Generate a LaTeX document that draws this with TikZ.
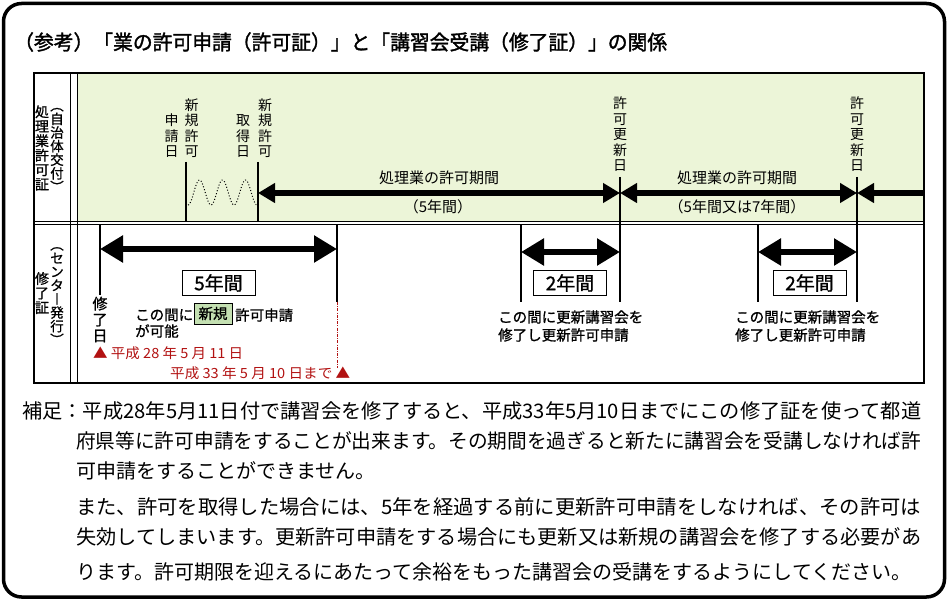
\documentclass[tikz,border=0pt]{standalone}
\usepackage{fontspec}
\setmainfont{Noto Sans CJK JP}
\newfontfamily\jpbold[FakeBold=1.6]{Noto Sans CJK JP}
\newfontfamily\jpsemi[FakeBold=1.0]{Noto Sans CJK JP}
\usetikzlibrary{arrows.meta,calc}
\definecolor{bggreen}{RGB}{236,245,216}
\definecolor{newgreen}{RGB}{196,224,178}
\definecolor{dred}{RGB}{178,18,18}
\begin{document}
\begin{tikzpicture}[x=1pt,y=-1pt,
  vt/.style={inner sep=0pt, align=center, font=\fontsize{14}{15.5}\selectfont},
  vtb/.style={inner sep=0pt, align=center, font=\jpsemi\fontsize{14}{14.5}\selectfont},
  vtl/.style={inner sep=0pt, align=center, font=\jpsemi\fontsize{13.5}{13.6}\selectfont},
  lab/.style={inner sep=0pt, font=\fontsize{15}{16}\selectfont},
  note/.style={inner sep=0pt, anchor=west, font=\jpsemi\fontsize{14.5}{16}\selectfont},
  redtxt/.style={inner sep=0pt, anchor=west, text=dred, font=\fontsize{14}{16}\selectfont},
  para/.style={inner sep=0pt, anchor=west, font=\fontsize{20}{24}\selectfont},
  yearbox/.style={draw, line width=1pt, minimum width=73pt, minimum height=24pt, inner sep=0pt, font=\jpsemi\fontsize{19}{20}\selectfont},
  vline/.style={line width=1.8pt},
  thinline/.style={line width=1pt},
  toparr/.style={line width=6pt, arrows={Triangle[length=17pt,width=19pt]-Triangle[length=17pt,width=19pt]}},
  toparrl/.style={line width=6pt, arrows={Triangle[length=17pt,width=19pt]-}},
  botarr/.style={line width=5.5pt, arrows={Triangle[length=23pt,width=26pt]-Triangle[length=23pt,width=26pt]}},
]
\useasboundingbox (0,0) rectangle (949,601);
% outer rounded frame
\draw[line width=3.5pt, rounded corners=18pt] (3.5,3.5) rectangle (944.5,597);
% title
\node[inner sep=0pt, anchor=west, font=\jpbold\fontsize{20.5}{24}\selectfont] (title) at (14,42)
  {\resizebox{653pt}{\height}{（参考）「業の許可申請（許可証）」と「講習会受講（修了証）」の関係}};

% table background
\fill[bggreen] (77,73) rectangle (924,222);
% table frame and double lines
\draw[thinline] (34,222) -- (924,222);
\draw[thinline] (34,225) -- (924,225);
\draw[thinline] (70.5,73) -- (70.5,383);
\draw[thinline] (77,73) -- (77,383);
\draw[line width=2pt] (34,73) rectangle (924,383);

% left column labels
\node[vtb] (kyokasho) at (42,148) {処\\理\\業\\許\\可\\証};
\node[vtl] (jichitai) at (57,150) {︵\\自\\治\\体\\交\\付\\︶};
\node[vtb] (shuryosho) at (42,293) {修\\了\\証};
\node[vtl] (center) at (57,296) {︵\\セ\\ン\\タ\\︱\\発\\行\\︶};

% top vertical labels
\node[vt, anchor=south] (shinki1) at (191.5,158) {新\\規\\許\\可};
\node[vt, anchor=south] (shinsei) at (171.5,158) {申\\請\\日};
\node[vt, anchor=south] (shinki2) at (265,158) {新\\規\\許\\可};
\node[vt, anchor=south] (shutoku) at (243,158) {取\\得\\日};
\node[vt, anchor=south] (koshin1) at (620,172) {許\\可\\更\\新\\日};
\node[vt, anchor=south] (koshin2) at (857,172) {許\\可\\更\\新\\日};

% vertical lines (top)
\coordinate (v1t) at (186,162); \coordinate (v1b) at (186,222);
\coordinate (v2t) at (258,162); \coordinate (v2b) at (258,222);
\coordinate (v3t) at (620,177); \coordinate (v3b) at (620,302);
\coordinate (v4t) at (857,177); \coordinate (v4b) at (857,302);
\draw[vline] (v1t) -- (v1b);
\draw[vline] (v2t) -- (v2b);
\draw[vline] (v3t) -- (v3b);
\draw[vline] (v4t) -- (v4b);
% wavy dotted line
\draw[line width=1pt, dotted] plot[domain=0:3, samples=90, smooth] ({188+23*\x}, {192.5+12.5*cos(360*\x)});

% top arrows
\coordinate (a1) at (258,193);
\coordinate (a2) at (620,193);
\coordinate (a3) at (857,193);
\coordinate (a4) at (924,193);
\draw[toparr] (a1) -- (a2);
\draw[toparr] (a2) -- (a3);
\draw[toparrl] (a3) -- (a4);
\node[lab] (kikan1) at (439,178) {処理業の許可期間};
\node[lab] (nen1) at (438,207) {（5年間）};
\node[lab] (kikan2) at (737,178) {処理業の許可期間};
\node[lab] (nen2) at (737,207) {（5年間又は7年間）};

% bottom vertical lines
\coordinate (b1t) at (100,225);
\coordinate (b2t) at (337,225); \coordinate (b2b) at (337,302);
\coordinate (b3t) at (521,225); \coordinate (b3b) at (521,302);
\coordinate (b5t) at (758,225); \coordinate (b5b) at (758,302);
\node[vtb, anchor=north, font=\jpsemi\fontsize{15}{16}\selectfont] (shuryobi) at (100,296.5) {修\\了\\日};
\draw[vline] (b1t) -- ($(shuryobi.north)+(0,-1.5)$);
\draw[vline] (b2t) -- (b2b);
\draw[vline] (b3t) -- (b3b);
\draw[vline] (b5t) -- (b5b);
\coordinate (b2r) at (337,368);
\draw[dred, line width=0.9pt, dash pattern=on 3pt off 1.2pt on 1pt off 1.2pt] (b2b) -- (b2r);

% bottom arrows
\draw[botarr] (100,249) -- (337,249);
\draw[botarr] (521,252) -- (620,252);
\draw[botarr] (758,252) -- (857,252);

% year boxes
\node[yearbox] (y5) at (218.5,283) {5年間};
\node[yearbox] (y2a) at (570,283) {2年間};
\node[yearbox] (y2b) at (809.5,283) {2年間};

% notes
\node[note] (kono1) at (135,315) {この間に};
\node[draw, fill=newgreen, line width=0.8pt, minimum width=38pt, minimum height=21pt, inner sep=0pt, font=\jpsemi\fontsize{14.5}{16}\selectfont] (shinkibox) at (213,313.5) {新規};
\node[note] (kyoka1) at (235,315) {許可申請};
\node[note] (kano) at (135,331) {が可能};
\node[note] (koshinA1) at (498,317) {この間に更新講習会を};
\node[note] (koshinA2) at (498,335) {修了し更新許可申請};
\node[note] (koshinB1) at (735,317) {この間に更新講習会を};
\node[note] (koshinB2) at (735,335) {修了し更新許可申請};

% red dates
\node[redtxt] (date1) at (93,353) {\resizebox{150pt}{\height}{▲ 平成 28 年 5 月 11 日}};
\node[redtxt] (date2) at (170,373) {\resizebox{180pt}{\height}{平成 33 年 5 月 10 日まで ▲}};

% paragraph
\node[para] (p1) at (22,411) {\resizebox{899pt}{\height}{補足：平成28年5月11日付で講習会を修了すると、平成33年5月10日までにこの修了証を使って都道}};
\node[para] (p2) at (76,441) {\resizebox{845pt}{\height}{府県等に許可申請をすることが出来ます。その期間を過ぎると新たに講習会を受講しなければ許}};
\node[para] (p3) at (76,471) {可申請をすることができません。};
\node[para] (p4) at (76,507) {\resizebox{845pt}{\height}{また、許可を取得した場合には、5年を経過する前に更新許可申請をしなければ、その許可は}};
\node[para] (p5) at (76,537) {\resizebox{845pt}{\height}{失効してしまいます。更新許可申請をする場合にも更新又は新規の講習会を修了する必要があ}};
\node[para] (p6) at (76,572) {ります。許可期限を迎えるにあたって余裕をもった講習会の受講をするようにしてください。};
\end{tikzpicture}
\end{document}
